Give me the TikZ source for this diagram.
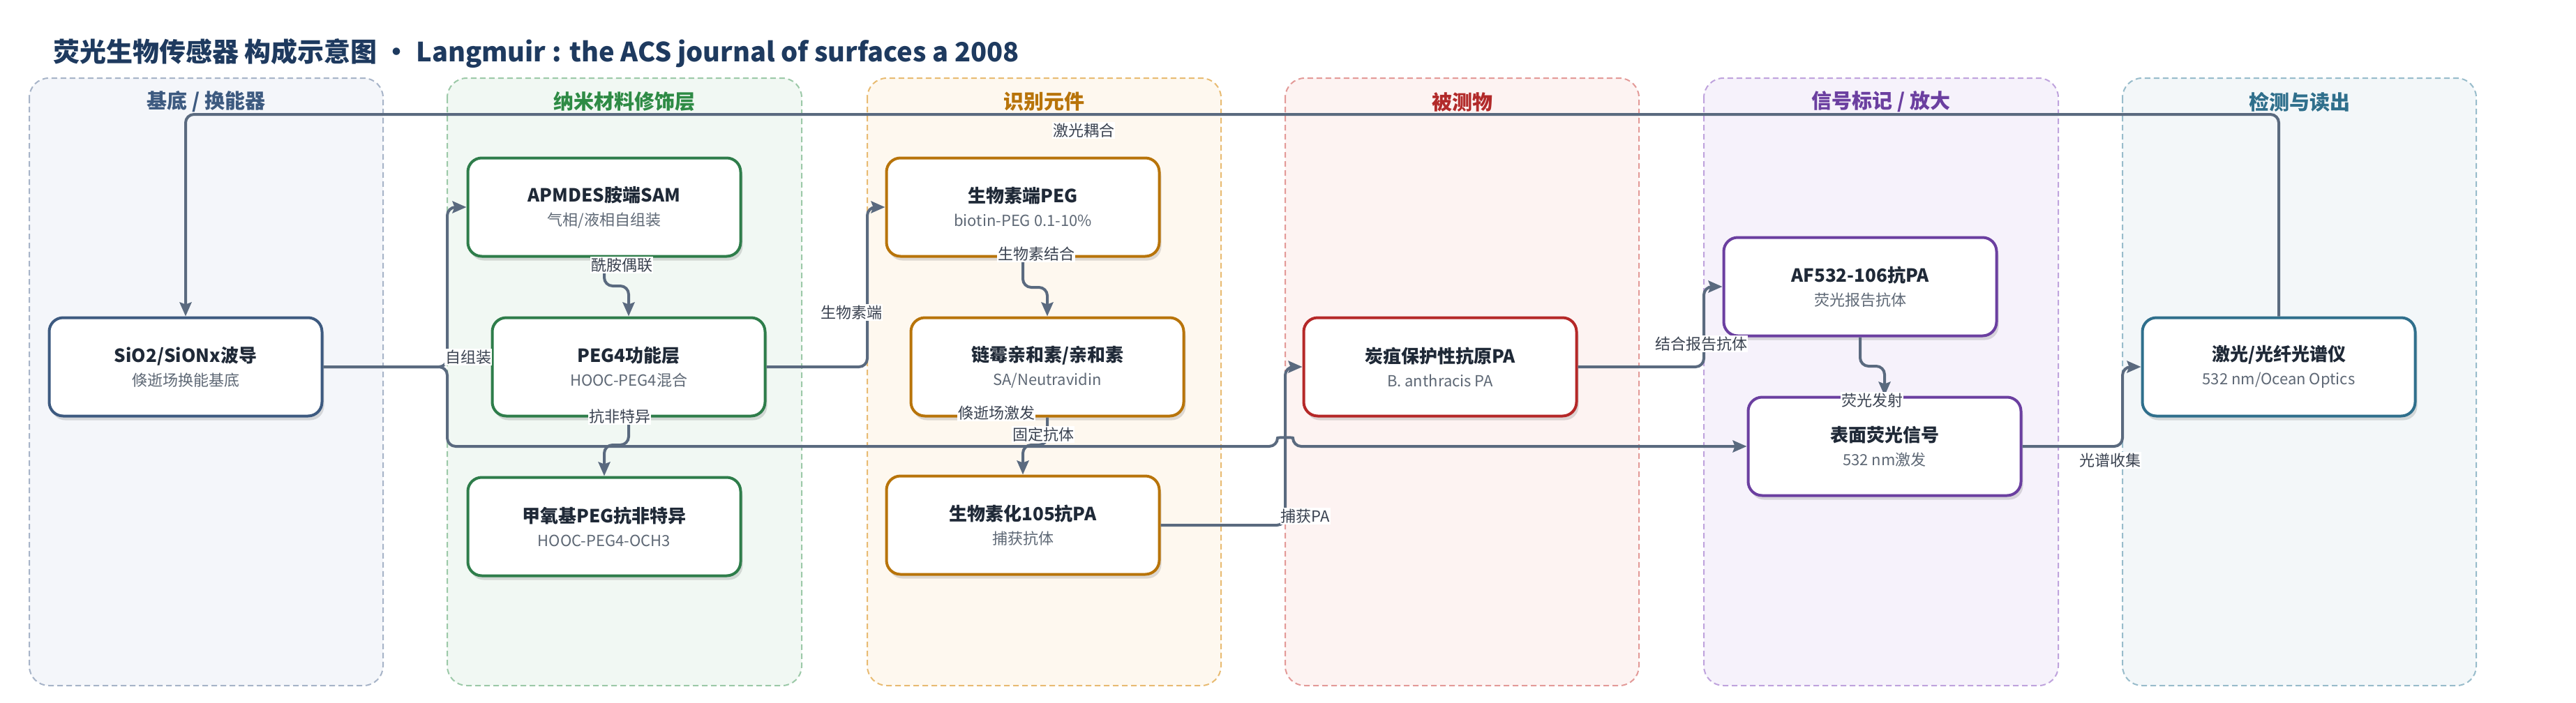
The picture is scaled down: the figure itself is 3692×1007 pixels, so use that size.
\documentclass[tikz,border=0pt]{standalone}
\usepackage{fontspec}
\setmainfont{Noto Sans CJK SC}
\usetikzlibrary{arrows.meta,shadows}

\definecolor{edgec}{HTML}{5A6A7F}
\definecolor{lblc}{HTML}{3A4250}
\definecolor{ttlc}{HTML}{1F2937}
\definecolor{subc}{HTML}{5E6875}
\definecolor{headc}{HTML}{1E3A5F}
% lane colours
\definecolor{fA}{HTML}{F4F6FA}\definecolor{bA}{HTML}{A7B4C8}\definecolor{tA}{HTML}{3D5A80}\definecolor{nA}{HTML}{3D5A80}
\definecolor{fB}{HTML}{F1F8F3}\definecolor{bB}{HTML}{9CC9A8}\definecolor{tB}{HTML}{2E8B45}\definecolor{nB}{HTML}{2E7D4A}
\definecolor{fC}{HTML}{FEF8EF}\definecolor{bC}{HTML}{E8BB72}\definecolor{tC}{HTML}{B8740A}\definecolor{nC}{HTML}{B8740A}
\definecolor{fD}{HTML}{FDF3F2}\definecolor{bD}{HTML}{E39A98}\definecolor{tD}{HTML}{B22A2A}\definecolor{nD}{HTML}{B52828}
\definecolor{fE}{HTML}{F6F2FB}\definecolor{bE}{HTML}{BFA3DD}\definecolor{tE}{HTML}{6B3FA0}\definecolor{nE}{HTML}{6B3FA0}
\definecolor{fF}{HTML}{F3F7F9}\definecolor{bF}{HTML}{98BCCB}\definecolor{tF}{HTML}{2F6F8C}\definecolor{nF}{HTML}{2F6F8C}

\tikzset{
  lanebox/.style={rounded corners=28pt, line width=2pt, dash pattern=on 8pt off 5pt},
  lanetitle/.style={font=\fontsize{29}{29}\selectfont\bfseries},
  box/.style={rectangle, rounded corners=20pt, line width=4pt, fill=white,
    minimum width=391pt, minimum height=141pt, align=center, inner sep=0pt,
    font=\fontsize{22}{34}\selectfont, text=subc,
    drop shadow={shadow xshift=3pt, shadow yshift=-6pt, opacity=0.13, fill=black}},
  conn/.style={draw=edgec, line width=4pt, rounded corners=12pt,
    -{Stealth[length=20pt, width=17pt, inset=3pt]}},
  lbl/.style={fill=white, text=lblc, font=\fontsize{22}{22}\selectfont, inner xsep=1pt, inner ysep=2pt},
}

\newcommand\BioNode[6]{%
  \node[box, draw=#4] (#1) at (#2,#3)
    {{\fontsize{26}{34}\selectfont\bfseries\color{ttlc}#5}\\#6};%
}

\begin{document}
\begin{tikzpicture}[x=1pt,y=-1pt]
\useasboundingbox[fill=white] (0,0) rectangle (3692,1007);

% title
\node[anchor=west, text=headc, font=\fontsize{38}{38}\selectfont\bfseries, inner sep=0pt] (title) at (76,76)
  {荧光生物传感器 构成示意图 • Langmuir : the ACS journal of surfaces a 2008};

% lanes
\draw[lanebox, fill=fA, draw=bA] (42,112) rectangle (549,983);
\draw[lanebox, fill=fB, draw=bB] (641,112) rectangle (1149,983);
\draw[lanebox, fill=fC, draw=bC] (1243,112) rectangle (1750,983);
\draw[lanebox, fill=fD, draw=bD] (1842,112) rectangle (2349,983);
\draw[lanebox, fill=fE, draw=bE] (2442,112) rectangle (2950,983);
\draw[lanebox, fill=fF, draw=bF] (3042,112) rectangle (3549,983);

\node[lanetitle, text=tA] (laneA) at (295.5,146) {基底 / 换能器};
\node[lanetitle, text=tB] (laneB) at (895,146) {纳米材料修饰层};
\node[lanetitle, text=tC] (laneC) at (1496.5,146) {识别元件};
\node[lanetitle, text=tD] (laneD) at (2095.5,146) {被测物};
\node[lanetitle, text=tE] (laneE) at (2696,146) {信号标记 / 放大};
\node[lanetitle, text=tF] (laneF) at (3295.5,146) {检测与读出};

% nodes
\BioNode{sio}{266}{526}{nA}{SiO2/SiONx波导}{倏逝场换能基底}
\BioNode{apm}{866}{297}{nB}{APMDES胺端SAM}{气相/液相自组装}
\BioNode{pegf}{901}{526}{nB}{PEG4功能层}{HOOC-PEG4混合}
\BioNode{meth}{866}{755}{nB}{甲氧基PEG抗非特异}{HOOC-PEG4-OCH3}
\BioNode{bpeg}{1466}{297}{nC}{生物素端PEG}{biotin-PEG 0.1-10\%}
\BioNode{sa}{1501}{526}{nC}{链霉亲和素/亲和素}{SA/Neutravidin}
\BioNode{bab}{1466}{753}{nC}{生物素化105抗PA}{捕获抗体}
\BioNode{pa}{2064}{526}{nD}{炭疽保护性抗原PA}{B. anthracis PA}
\BioNode{af}{2666}{411}{nE}{AF532-106抗PA}{荧光报告抗体}
\BioNode{surf}{2701}{640}{nE}{表面荧光信号}{532 nm激发}
\BioNode{spec}{3266}{526}{nF}{激光/光纤光谱仪}{532 nm/Ocean Optics}

% connectors
\draw[conn] (spec.north) |- (266,164) -- (sio.north);
\draw[conn] (sio.east) -| (641,640) -- (1831,640) .. controls (1831,627) and (1853,627) .. (1853,640) -- (surf.west);
\draw[conn] (sio.east) -| (641,297) -- (apm.west);
\draw[conn] (apm.south) -- (866,410) -- (901,410) -- (pegf.north);
\draw[conn] (pegf.south) -- (901,638) -- (866,638) -- (meth.north);
\draw[conn] (pegf.east) -| (1243,297) -- (bpeg.west);
\draw[conn] (bpeg.south) -- (1466,412) -- (1501,412) -- (sa.north);
\draw[conn] (sa.south) -- (1501,638) -- (1466,638) -- (bab.north);
\draw[conn] (bab.east) -| (1842,526) -- (pa.west);
\draw[conn] (pa.east) -| (2442,411) -- (af.west);
\draw[conn] (af.south) -- (2666,525) -- (2701,525) -- (surf.north);
\draw[conn] (surf.east) -| (3042,526) -- (spec.west);

% labels
\node[lbl] (l1) at (1553,187) {激光耦合};
\node[lbl] (l2) at (671,512) {自组装};
\node[lbl] (l3) at (1428,592) {倏逝场激发};
\node[lbl] (l4) at (891,380) {酰胺偶联};
\node[lbl] (l5) at (888,597) {抗非特异};
\node[lbl] (l6) at (1220,448) {生物素端};
\node[lbl] (l7) at (1485,364) {生物素结合};
\node[lbl] (l8) at (1495,623) {固定抗体};
\node[lbl] (l9) at (1871,740) {捕获PA};
\node[lbl] (l10) at (2438,493) {结合报告抗体};
\node[lbl] (l11) at (2683,574) {荧光发射};
\node[lbl] (l12) at (3024,660) {光谱收集};
\end{tikzpicture}
\end{document}
